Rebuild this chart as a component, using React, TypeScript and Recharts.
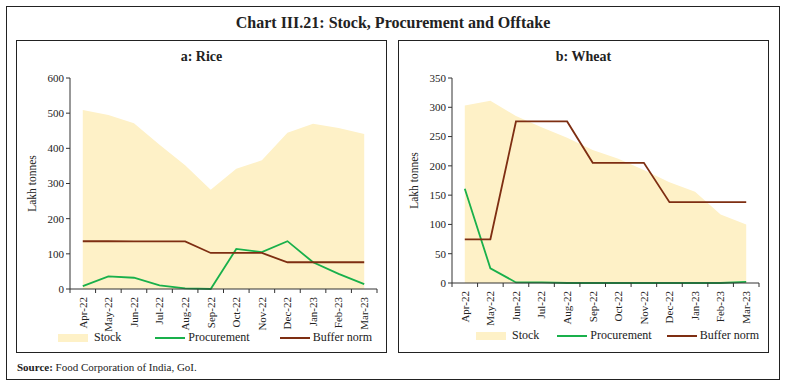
import React from 'react';
import { ComposedChart, Area, Line, XAxis, YAxis } from 'recharts';

const months = ['Apr-22', 'May-22', 'Jun-22', 'Jul-22', 'Aug-22', 'Sep-22', 'Oct-22', 'Nov-22', 'Dec-22', 'Jan-23', 'Feb-23', 'Mar-23'];

const riceStock = [509, 495, 471, 410, 352, 282, 342, 366, 444, 470, 458, 441];
const riceProcurement = [8, 36, 32, 10, 2, 0, 114, 105, 136, 76, 43, 14];
const riceBuffer = [135.8, 135.8, 135.4, 135.4, 135.4, 102.5, 102.5, 102.5, 76.1, 76.1, 76.1, 76.1];
const riceTicks = [0, 100, 200, 300, 400, 500, 600];

const wheatStock = [303, 311, 285, 266, 248, 227, 212, 193, 172, 156, 117, 100];
const wheatProcurement = [161, 25, 1, 1, 0, 0, 0, 0, 0, 0, 0, 2];
const wheatBuffer = [74.6, 74.6, 275.8, 275.8, 275.8, 205.2, 205.2, 205.2, 138, 138, 138, 138];
const wheatTicks = [0, 50, 100, 150, 200, 250, 300, 350];

const FONT = '"Liberation Serif", serif';
const STOCK = '#FEF1C7';
const GREEN = '#19B04B';
const BROWN = '#7E2E12';

const rows = (stock: number[], proc: number[], buffer: number[]) =>
  months.map((m, i) => ({ month: m, stock: stock[i], procurement: proc[i], buffer: buffer[i] }));

// rotated month label, tick marks sit on the band edges
const MonthTick = (props: any) => {
  const { x, y, payload, index, visibleTicksCount } = props;
  const half = payload && payload.offset ? payload.offset : 12.8;
  return (
    <g>
      <line x1={x - half} x2={x - half} y1={y - 8} y2={y - 4} stroke="#333" />
      {index === visibleTicksCount - 1 && <line x1={x + half} x2={x + half} y1={y - 8} y2={y - 4} stroke="#333" />}
      <text x={x} y={y} transform={`rotate(-90, ${x}, ${y})`} textAnchor="end" dy="0.35em" fontSize={11} fontFamily={FONT} fill="#222">
        {payload.value}
      </text>
    </g>
  );
};

const LegendRow = ({ left, top, gaps }: { left: number; top: number; gaps: number[] }) => (
  <div style={{ position: 'absolute', left, top, display: 'flex', alignItems: 'center', fontFamily: FONT, fontSize: 12, color: '#222', whiteSpace: 'nowrap' }}>
    <span style={{ display: 'inline-block', width: 30, height: 8, background: STOCK, marginRight: 6 }} />
    <span style={{ marginRight: gaps[0] }}>Stock</span>
    <span style={{ display: 'inline-block', width: 30, height: 2, background: GREEN, marginRight: 3 }} />
    <span style={{ marginRight: gaps[1] }}>Procurement</span>
    <span style={{ display: 'inline-block', width: 30, height: 2, background: BROWN, marginRight: 3 }} />
    <span>Buffer norm</span>
  </div>
);

function Panel({ left, title, data, ticks, max, plotHeight, legendLeft, legendTop, gaps }: any) {
  return (
    <div style={{ position: 'absolute', left, top: 40, width: 369, height: 311, border: '1px solid #222' }}>
      <div style={{ position: 'absolute', left: 0, width: 369, top: 8, textAlign: 'center', fontFamily: FONT, fontWeight: 'bold', fontSize: 14, color: '#222' }}>
        {title}
      </div>
      <div style={{ position: 'absolute', left: -1, top: -1 }}>
        <ComposedChart width={371} height={313} data={data} margin={{ top: 38, right: 10, left: 0, bottom: 0 }}>
          <XAxis dataKey="month" scale="band" height={313 - 38 - plotHeight} interval={0} tickLine={false} stroke="#333" tick={<MonthTick />} />
          <YAxis
            domain={[0, max]}
            ticks={ticks}
            width={54}
            tickSize={4}
            stroke="#333"
            tick={{ fontSize: 11, fontFamily: FONT, fill: '#222' }}
            label={{
              content: (p: any) => (
                <text x={16} y={p.viewBox.y + p.viewBox.height / 2} transform={`rotate(-90, 16, ${p.viewBox.y + p.viewBox.height / 2})`} textAnchor="middle" dy="0.35em" fontSize={11.5} fontFamily={FONT} fill="#222">
                  Lakh tonnes
                </text>
              ),
            }}
          />
          <Area dataKey="stock" type="linear" fill={STOCK} fillOpacity={1} stroke="none" isAnimationActive={false} />
          <Line dataKey="procurement" type="linear" stroke={GREEN} strokeWidth={1.8} dot={false} isAnimationActive={false} />
          <Line dataKey="buffer" type="linear" stroke={BROWN} strokeWidth={1.8} dot={false} isAnimationActive={false} />
        </ComposedChart>
      </div>
      <LegendRow left={legendLeft} top={legendTop} gaps={gaps} />
    </div>
  );
}

export default function App() {
  return (
    <div style={{ position: 'absolute', left: 0, top: 0, width: 786, height: 385, background: '#fff' }}>
      <div style={{ position: 'absolute', left: 6, top: 6, width: 772, height: 372, border: '1px solid #222' }} />
      <div style={{ position: 'absolute', left: 0, width: 786, top: 14, textAlign: 'center', fontFamily: FONT, fontWeight: 'bold', fontSize: 16, color: '#222' }}>
        Chart III.21: Stock, Procurement and Offtake
      </div>
      <Panel left={16} title="a: Rice" data={rows(riceStock, riceProcurement, riceBuffer)} ticks={riceTicks} max={600} plotHeight={211} legendLeft={41} legendTop={289} gaps={[34, 30]} />
      <Panel left={398} title="b: Wheat" data={rows(wheatStock, wheatProcurement, wheatBuffer)} ticks={wheatTicks} max={350} plotHeight={205} legendLeft={77} legendTop={287} gaps={[18, 15]} />
      <div style={{ position: 'absolute', left: 17, top: 361, fontFamily: FONT, fontSize: 11, color: '#222' }}>
        <b>Source:</b> Food Corporation of India, GoI.
      </div>
    </div>
  );
}
